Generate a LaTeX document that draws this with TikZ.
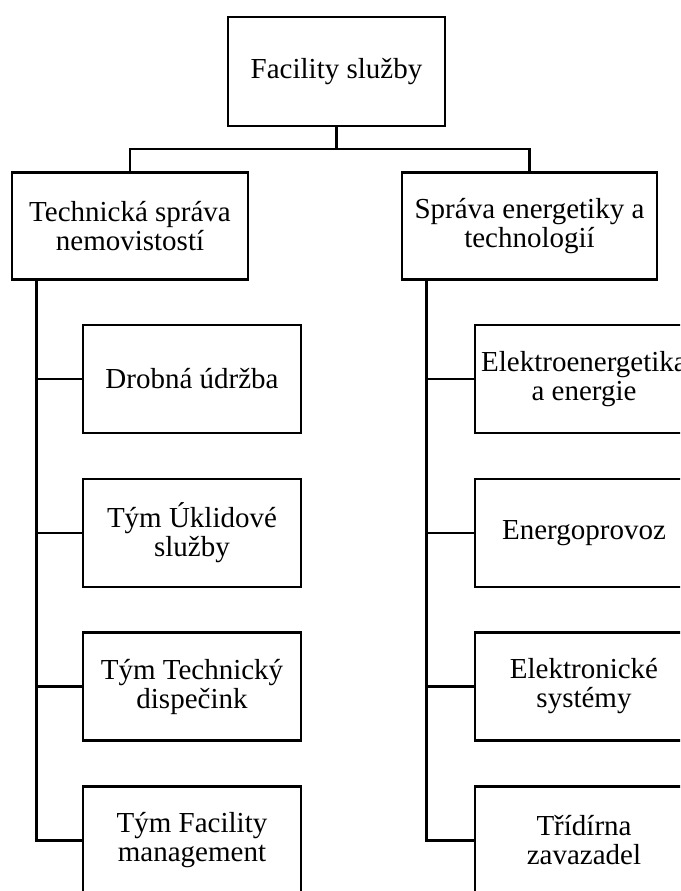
\documentclass[tikz,border=0pt]{standalone}
\usepackage{fontspec}
\setmainfont{Liberation Serif}
\begin{document}
\begin{tikzpicture}[x=1pt,y=-1pt,
  box/.style={draw,line width=2.5pt,inner sep=0pt,align=center,
    font=\fontsize{29}{29}\selectfont},
  lvl1/.style={box,minimum height=107pt},
  leaf/.style={box,minimum width=218pt,minimum height=108pt},
  conn/.style={line width=2.5pt}]
\useasboundingbox (0,0) rectangle (680,891);
\clip (0,0) rectangle (680,891);
\node[box,minimum width=217pt,minimum height=109pt] (top) at (336.5,71.5) {Facility služby};
\node[lvl1,minimum width=236pt] (L) at (130,226) {Technická správa\\nemovistostí};
\node[lvl1,minimum width=255pt] (R) at (529.5,226) {Správa energetiky a\\technologií};
\node[leaf] (l1) at (192,379) {Drobná údržba};
\node[leaf] (l2) at (192,533) {Tým Úklidové\\služby};
\node[leaf] (l3) at (192,686.5) {Tým Technický\\dispečink};
\node[leaf] (l4) at (192,840.5) {Tým Facility\\management};
\node[leaf] (r1) at (584,379) {Elektroenergetika\\a energie};
\node[leaf] (r2) at (584,533) {Energoprovoz};
\node[leaf] (r3) at (584,686.5) {Elektronické\\systémy};
\node[leaf] (r4) at (584,840.5) {Třídírna\\zavazadel};
\coordinate (j) at (336.5,149);
\coordinate (ls) at (36.5,279.5);
\coordinate (rs) at (426.5,279.5);
\draw[conn] (top.south) -- (j);
\draw[conn] (L.north) |- (j) -| (R.north);
\draw[conn] (ls) |- (l4.west);
\foreach \n in {l1,l2,l3} \draw[conn] (ls |- \n.west) -- (\n.west);
\draw[conn] (rs) |- (r4.west);
\foreach \n in {r1,r2,r3} \draw[conn] (rs |- \n.west) -- (\n.west);
\end{tikzpicture}
\end{document}
